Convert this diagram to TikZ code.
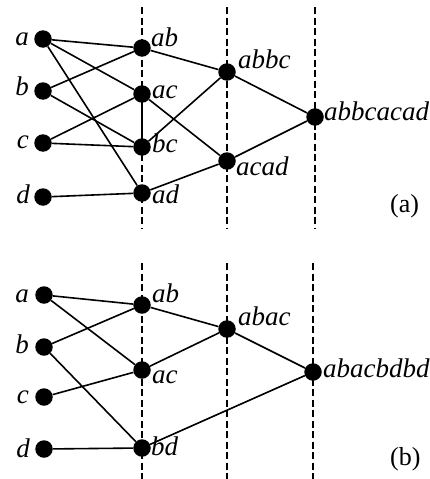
\documentclass[tikz,border=0pt]{standalone}
\usepackage{fontspec}
\setmainfont{Liberation Serif}
\begin{document}
\begin{tikzpicture}[x=1pt,y=-1pt,
  dot/.style={circle,fill=black,inner sep=0pt,minimum size=17.5pt},
  lab/.style={inner sep=0pt,font=\fontsize{27}{30}\selectfont\itshape},
  llab/.style={lab,anchor=base east},
  rlab/.style={lab,anchor=base west},
  plab/.style={inner sep=0pt,font=\fontsize{26}{29}\selectfont,anchor=base west},
  edge/.style={line width=1.6pt},
  guide/.style={line width=1.6pt,dash pattern=on 7pt off 3.5pt}]
\useasboundingbox (0,0) rectangle (430,479);
% ---------- panel (a) ----------
\foreach \x in {142,227,315} \draw[guide] (\x,7) -- (\x,228);
\node[dot] (a1) at (43,39) {};
\node[dot] (b1) at (43,91) {};
\node[dot] (c1) at (43,143) {};
\node[dot] (d1) at (43,197) {};
\node[dot] (ab1) at (142,48) {};
\node[dot] (ac1) at (142,94) {};
\node[dot] (bc1) at (142,147) {};
\node[dot] (ad1) at (142,193) {};
\node[dot] (abbc) at (227,72) {};
\node[dot] (acad) at (227,161) {};
\node[dot] (abbcacad) at (315,117) {};
\node[llab] at (29,45) {a};
\node[llab] at (29,95) {b};
\node[llab] at (29,148) {c};
\node[llab] at (30,203) {d};
\node[rlab] at (151,46) {ab};
\node[rlab] at (152,98) {ac};
\node[rlab] at (152,152) {bc};
\node[rlab] at (152,203) {ad};
\node[rlab] at (238,68) {abbc};
\node[rlab] at (236,175) {acad};
\node[rlab] at (324,120) {abbcacad};
\node[plab] at (390,212) {(a)};
\draw[edge] (a1) -- (ab1);
\draw[edge] (a1) -- (ac1);
\draw[edge] (a1) -- (ad1);
\draw[edge] (b1) -- (ab1);
\draw[edge] (b1) -- (bc1);
\draw[edge] (c1) -- (ac1);
\draw[edge] (c1) -- (bc1);
\draw[edge] (d1) -- (ad1);
\draw[edge] (ac1) -- (bc1);
\draw[edge] (ab1) -- (abbc);
\draw[edge] (bc1) -- (abbc);
\draw[edge] (ac1) -- (acad);
\draw[edge] (ad1) -- (acad);
\draw[edge] (abbc) -- (abbcacad);
\draw[edge] (acad) -- (abbcacad);
% ---------- panel (b) ----------
\foreach \x in {142,227,313} \draw[guide] (\x,263) -- (\x,479);
\node[dot] (a2) at (44,295) {};
\node[dot] (b2) at (44,347) {};
\node[dot] (c2) at (44,397) {};
\node[dot] (d2) at (44,449) {};
\node[dot] (ab2) at (142,305) {};
\node[dot] (ac2) at (142,370) {};
\node[dot] (bd2) at (142,448) {};
\node[dot] (abac) at (227,329) {};
\node[dot] (abacbdbd) at (313,372) {};
\node[llab] at (29,302) {a};
\node[llab] at (29,353) {b};
\node[llab] at (29,403) {c};
\node[llab] at (30,457) {d};
\node[rlab] at (152,302) {ab};
\node[rlab] at (152,383) {ac};
\node[rlab] at (151,455) {bd};
\node[rlab] at (238,325) {abac};
\node[rlab] at (323,377) {abacbdbd};
\node[plab] at (390,465) {(b)};
\draw[edge] (a2) -- (ab2);
\draw[edge] (a2) -- (ac2);
\draw[edge] (b2) -- (ab2);
\draw[edge] (b2) -- (bd2);
\draw[edge] (c2) -- (ac2);
\draw[edge] (d2) -- (bd2);
\draw[edge] (ab2) -- (abac);
\draw[edge] (ac2) -- (abac);
\draw[edge] (abac) -- (abacbdbd);
\draw[edge] (bd2) -- (abacbdbd);
\end{tikzpicture}
\end{document}
